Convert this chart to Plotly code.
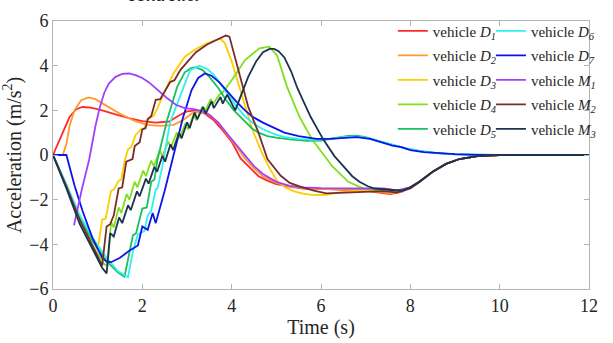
import plotly.graph_objects as go

# ---- data: acceleration (m/s^2) vs time (s) ----
t_D1 = [0, 0.1, 0.22, 0.37, 0.52, 0.66, 0.85, 1.1, 1.4, 1.7, 2.0, 2.3, 2.6, 2.8, 3.0, 3.2, 3.4, 3.6, 3.8,
        4.0, 4.2, 4.4, 4.6, 4.8, 5.0, 5.3, 5.6, 6.0, 6.5, 7.0, 7.3, 7.55, 7.8, 8.0, 8.2, 8.5, 8.8, 9.1, 9.5, 10.0, 12]
a_D1 = [0, 0.45, 1.0, 1.7, 2.05, 2.15, 2.12, 2.0, 1.82, 1.65, 1.52, 1.45, 1.5, 1.75, 1.95, 2.0, 1.85, 1.55, 1.1,
        0.6, -0.15, -0.55, -0.95, -1.15, -1.3, -1.42, -1.5, -1.52, -1.55, -1.6, -1.68, -1.75, -1.65, -1.45, -1.2,
        -0.75, -0.4, -0.18, -0.05, 0, 0]

t_D2 = [0, 0.22, 0.3, 0.37, 0.48, 0.63, 0.8, 0.95, 1.2, 1.5, 1.8, 2.1, 2.4, 2.7, 2.9, 3.1, 3.3, 3.5, 3.7, 3.9,
        4.1, 4.3, 4.5, 4.7, 5.0, 5.3, 5.6, 6.0, 6.5, 7.0, 7.3, 7.55, 7.8, 8.0, 8.2, 8.5, 8.8, 9.1, 9.5, 10.0, 12]
a_D2 = [0, 0, 0.5, 1.3, 2.0, 2.45, 2.58, 2.5, 2.2, 1.85, 1.55, 1.35, 1.3, 1.35, 1.55, 1.85, 1.95, 1.8, 1.45, 0.95,
        0.4, -0.15, -0.6, -0.95, -1.25, -1.4, -1.48, -1.52, -1.55, -1.58, -1.65, -1.72, -1.65, -1.45, -1.2,
        -0.75, -0.4, -0.18, -0.05, 0, 0]

t_D3 = [0, 0.3, 0.6, 0.9, 1.0, 1.1, 1.18, 1.3, 1.36, 1.47, 1.53, 1.6, 1.68, 1.75, 1.85, 1.97, 2.05, 2.12, 2.25,
        2.34, 2.49, 2.7, 2.95, 3.2, 3.45, 3.65, 3.75, 3.85, 4.0, 4.24, 4.46, 4.67, 4.85, 5.03, 5.2, 5.4, 5.6,
        5.84, 6.1, 6.5, 7.0, 7.4, 7.7, 8.0, 8.2, 8.5, 8.8, 9.1, 9.5, 10.0, 12]
a_D3 = [0, -1.35, -2.85, -3.95, -4.25, -2.9, -2.85, -1.6, -1.55, -1.15, -1.1, -0.3, 0.26, 0.35, 0.9, 1.15, 1.2,
        1.6, 1.75, 2.1, 2.8, 3.66, 4.4, 4.75, 5.0, 5.15, 5.2, 5.0, 4.2, 2.6, 1.15, 0.13, -0.6, -1.2, -1.45,
        -1.63, -1.73, -1.8, -1.78, -1.65, -1.57, -1.58, -1.6, -1.45, -1.2, -0.75, -0.4, -0.18, -0.05, 0, 0]

t_D4 = [0, 0.3, 0.6, 0.9, 1.15, 1.22, 1.3, 1.36, 1.47, 1.53, 1.65, 1.71, 1.83, 1.89, 2.02, 2.08, 2.2, 2.26,
        2.39, 2.45, 2.58, 2.64, 2.77, 2.83, 2.96, 3.02, 3.15, 3.21, 3.34, 3.4, 3.53, 3.59, 3.72, 3.8, 4.02,
        4.3, 4.62, 4.84, 5.02, 5.24, 5.52, 5.8, 6.25, 6.61, 6.95, 7.3, 7.6, 7.85, 8.0, 8.2, 8.5, 8.8, 9.1,
        9.5, 10.0, 12]
a_D4 = [0, -1.4, -2.9, -4.1, -4.9, -4.95, -3.0, -3.25, -2.35, -2.6, -1.75, -2.0, -1.2, -1.45, -0.7, -0.95,
        -0.25, -0.5, 0.2, -0.05, 0.6, 0.35, 1.0, 0.75, 1.4, 1.15, 1.8, 1.55, 2.15, 1.95, 2.5, 2.3, 2.7, 2.8,
        3.4, 4.25, 4.78, 4.85, 4.45, 3.05, 1.7, 0.7, -0.5, -1.2, -1.5, -1.58, -1.6, -1.6, -1.45, -1.2, -0.75,
        -0.4, -0.18, -0.05, 0, 0]

t_D5 = [0, 0.3, 0.6, 0.9, 1.2, 1.45, 1.6, 1.79, 1.86, 2.0, 2.1, 2.2, 2.27, 2.34, 2.56, 2.78, 2.95, 3.1, 3.2,
        3.35, 3.5, 3.7, 3.87, 4.05, 4.24, 4.45, 4.6, 4.8, 5.0, 5.3, 5.7, 6.0, 6.3, 6.6, 6.8, 7.0, 7.3, 7.6,
        7.9, 8.2, 8.6, 9.0, 9.5, 10.0, 12]
a_D5 = [0, -1.4, -2.8, -3.9, -4.75, -5.25, -5.45, -3.6, -3.5, -2.4, -2.35, -1.2, -1.1, -0.2, 1.6, 3.05, 3.7,
        3.9, 3.93, 3.8, 3.5, 3.0, 2.47, 2.0, 1.6, 1.2, 1.0, 0.85, 0.78, 0.7, 0.63, 0.65, 0.75, 0.85, 0.87,
        0.8, 0.62, 0.45, 0.3, 0.18, 0.08, 0.03, 0.01, 0, 0]

t_D6 = [0, 0.3, 0.6, 0.9, 1.2, 1.45, 1.68, 1.78, 1.9, 2.05, 2.12, 2.2, 2.3, 2.34, 2.45, 2.62, 2.84, 3.07,
        3.28, 3.45, 3.6, 3.8, 3.95, 4.1, 4.3, 4.5, 4.7, 5.0, 5.2, 5.5, 5.85, 6.2, 6.5, 6.75, 7.0, 7.3, 7.6,
        7.9, 8.2, 8.6, 9.0, 9.5, 10.0, 12]
a_D6 = [0, -1.3, -2.7, -3.75, -4.6, -5.2, -5.47, -4.4, -3.55, -3.4, -2.7, -2.5, -1.55, -1.5, -0.5, 1.45, 2.6,
        3.8, 4.0, 3.85, 3.6, 3.05, 2.6, 2.2, 1.72, 1.4, 1.15, 0.9, 0.8, 0.72, 0.68, 0.72, 0.8, 0.82, 0.78,
        0.62, 0.45, 0.3, 0.18, 0.08, 0.03, 0.01, 0, 0]

t_D7 = [0, 0.3, 0.48, 0.66, 0.88, 1.1, 1.2, 1.3, 1.5, 1.7, 1.9, 2.0, 2.12, 2.23, 2.3, 2.5, 2.7, 2.9, 3.1,
        3.25, 3.4, 3.55, 3.72, 3.9, 4.1, 4.3, 4.46, 4.7, 5.0, 5.18, 5.5, 5.9, 6.2, 6.5, 6.8, 7.1, 7.37, 7.6,
        7.8, 8.0, 8.3, 8.6, 9.0, 9.5, 10.0, 12]
a_D7 = [0, 0, -1.35, -2.5, -3.7, -4.6, -4.78, -4.8, -4.6, -4.3, -4.05, -3.2, -3.35, -2.6, -3.05, -1.6, 0.0,
        1.6, 2.9, 3.45, 3.65, 3.55, 3.26, 2.85, 2.4, 2.0, 1.72, 1.45, 1.15, 1.0, 0.85, 0.72, 0.72, 0.76, 0.8,
        0.72, 0.55, 0.42, 0.35, 0.22, 0.13, 0.08, 0.04, 0.01, 0, 0]

t_M1 = [0.47, 0.65, 0.81, 0.95, 1.05, 1.15, 1.25, 1.4, 1.55, 1.7, 1.85, 2.0, 2.15, 2.35, 2.55,
        2.75, 2.95, 3.15, 3.35, 3.5, 3.7, 3.9, 4.1, 4.3, 4.5, 4.7, 5.0, 5.3, 5.6, 6.0, 6.5, 7.0, 7.4, 7.7,
        8.0, 8.2, 8.5, 8.8, 9.1, 9.5, 10.0, 12]
a_M1 = [-3.15, -1.5, -0.2, 1.3, 2.15, 2.8, 3.2, 3.5, 3.63, 3.65, 3.58, 3.45, 3.25, 2.9, 2.55,
        2.25, 2.1, 2.05, 1.95, 1.8, 1.45, 0.95, 0.45, -0.05, -0.5, -0.85, -1.2, -1.38, -1.45, -1.48, -1.5,
        -1.5, -1.5, -1.58, -1.45, -1.2, -0.75, -0.4, -0.18, -0.05, 0, 0]

t_M2 = [0, 0.3, 0.6, 0.9, 1.1, 1.2, 1.28, 1.36, 1.47, 1.55, 1.64, 1.78, 1.83, 1.94, 2.0, 2.07, 2.12, 2.2,
        2.3, 2.4, 2.49, 2.62, 2.72, 2.85, 3.0, 3.2, 3.45, 3.7, 3.87, 3.95, 4.15, 4.37, 4.6, 4.8, 5.1, 5.3,
        5.55, 5.84, 6.12, 6.5, 7.0, 7.4, 7.7, 8.0, 8.2, 8.5, 8.8, 9.1, 9.5, 10.0, 12]
a_M2 = [0, -1.4, -2.9, -4.15, -4.95, -3.2, -3.1, -2.7, -1.5, -1.45, -0.3, -0.18, 0.4, 0.57, 1.15, 1.2, 1.6,
        1.75, 2.47, 2.5, 2.8, 3.26, 3.35, 3.8, 4.15, 4.6, 4.95, 5.2, 5.35, 5.3, 3.8, 2.16, 1.0, -0.18, -0.93,
        -1.25, -1.43, -1.6, -1.72, -1.7, -1.65, -1.62, -1.68, -1.5, -1.22, -0.75, -0.4, -0.18, -0.05, 0, 0]

t_M3 = [0, 0.3, 0.6, 0.9, 1.1, 1.2, 1.28, 1.36, 1.48, 1.55, 1.68, 1.74, 1.88, 1.94, 2.08, 2.14, 2.27, 2.33,
        2.45, 2.51, 2.63, 2.69, 2.82, 2.88, 3.0, 3.06, 3.17, 3.23, 3.36, 3.42, 3.55, 3.6, 3.75, 3.8, 3.9,
        4.08, 4.2, 4.37, 4.55, 4.7, 4.85, 4.95, 5.05, 5.18, 5.33, 5.47, 5.62, 5.77, 6.05, 6.3, 6.5, 6.7,
        6.86, 7.05, 7.2, 7.58, 7.8, 8.0, 8.2, 8.5, 8.8, 9.1, 9.5, 10.0, 12]
a_M3 = [0, -1.5, -3.1, -4.3, -5.05, -5.3, -3.5, -3.65, -2.8, -3.05, -2.25, -2.47, -1.63, -1.85, -1.06, -1.28,
        -0.53, -0.75, -0.04, -0.3, 0.48, 0.22, 1.0, 0.75, 1.46, 1.2, 1.9, 1.6, 2.16, 1.85, 2.4, 2.1, 2.6, 2.3,
        2.7, 2.0, 2.6, 3.5, 4.2, 4.6, 4.75, 4.75, 4.65, 4.37, 3.75, 3.0, 2.35, 1.7, 0.7, -0.05, -0.5, -0.95,
        -1.2, -1.4, -1.5, -1.57, -1.6, -1.45, -1.2, -0.75, -0.4, -0.18, -0.05, 0, 0]

x_ticks = [0, 2, 4, 6, 8, 10, 12]
y_ticks = [-6, -4, -2, 0, 2, 4, 6]

series = [
    ("vehicle <i>D</i><sub><i>1</i></sub>", t_D1, a_D1, "#ff2a2a", "legend"),
    ("vehicle <i>D</i><sub><i>2</i></sub>", t_D2, a_D2, "#ff9a2e", "legend"),
    ("vehicle <i>D</i><sub><i>3</i></sub>", t_D3, a_D3, "#ffcc00", "legend"),
    ("vehicle <i>D</i><sub><i>4</i></sub>", t_D4, a_D4, "#80e01a", "legend"),
    ("vehicle <i>D</i><sub><i>5</i></sub>", t_D5, a_D5, "#1ac060", "legend"),
    ("vehicle <i>D</i><sub><i>6</i></sub>", t_D6, a_D6, "#2ef0f0", "legend2"),
    ("vehicle <i>D</i><sub><i>7</i></sub>", t_D7, a_D7, "#0a14f0", "legend2"),
    ("vehicle <i>M</i><sub><i>1</i></sub>", t_M1, a_M1, "#a040ff", "legend2"),
    ("vehicle <i>M</i><sub><i>2</i></sub>", t_M2, a_M2, "#7a2c2c", "legend2"),
    ("vehicle <i>M</i><sub><i>3</i></sub>", t_M3, a_M3, "#1c3350", "legend2"),
]

FONT = "Liberation Serif, Times New Roman, serif"

fig = go.Figure()
for i, (name, t, a, color, lg) in enumerate(series):
    fig.add_trace(go.Scatter(
        x=t, y=a, mode="lines", name=name,
        line=dict(color=color, width=1.8),
        legend=lg, legendgroup=f"g{i}",
    ))

axis_common = dict(
    showline=True, linecolor="#b4b4b4", linewidth=1, mirror="ticks",
    ticks="inside", ticklen=5, tickcolor="#b4b4b4", tickwidth=1,
    showgrid=False, zeroline=False,
    tickfont=dict(family=FONT, size=18, color="#262626"),
)

legend_common = dict(
    font=dict(family=FONT, size=15, color="#262626"),
    bgcolor="rgba(0,0,0,0)", borderwidth=0,
    orientation="v", xanchor="left", yanchor="top",
    tracegroupgap=2, itemclick=False,
)

fig.update_layout(
    width=613, height=343,
    margin=dict(l=53, r=11, t=20, b=51),
    paper_bgcolor="white", plot_bgcolor="white",
    xaxis=dict(range=[0, 12], tickvals=x_ticks, **axis_common,
               title=dict(text="Time (s)", standoff=2,
                          font=dict(family=FONT, size=20, color="#262626"))),
    yaxis=dict(range=[-6, 6], tickvals=y_ticks, **axis_common,
               title=dict(text="Acceleration (m/s<sup>2</sup>)", standoff=2,
                          font=dict(family=FONT, size=20, color="#262626"))),
    legend=dict(x=0.634, y=1.024, **legend_common),
    legend2=dict(x=0.817, y=1.024, **legend_common),
    showlegend=True,
)

fig.add_annotation(
    text="<b>controller</b>", xref="paper", yref="paper", x=0.135, y=1.056,
    xanchor="left", yanchor="bottom", showarrow=False,
    font=dict(family="Liberation Sans, Arial, sans-serif", size=16, color="#262626"),
)

fig.write_html("out.html")
